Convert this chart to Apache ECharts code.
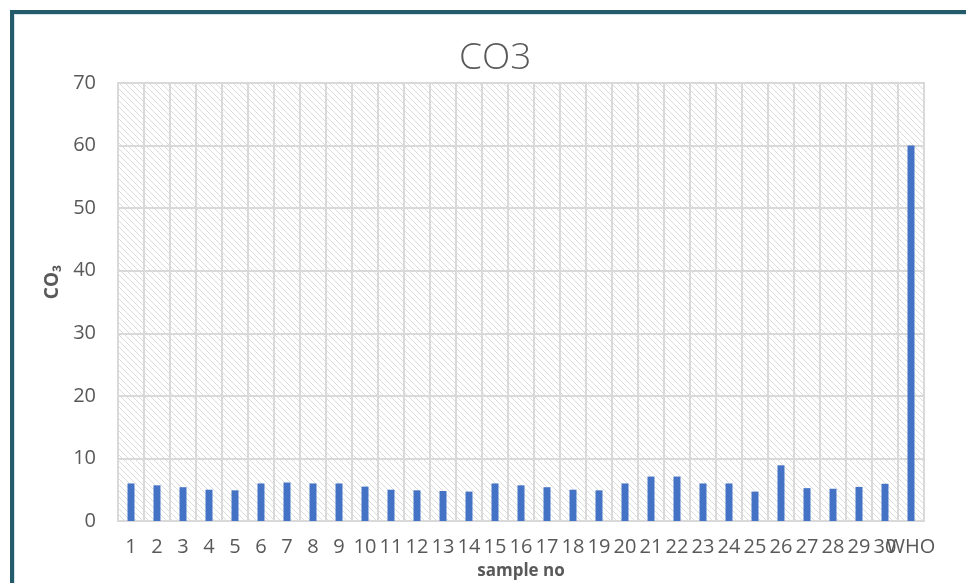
<!DOCTYPE html>
<html>
<head>
<meta charset="utf-8">
<script src="https://cdn.jsdelivr.net/npm/echarts@6/dist/echarts.min.js"></script>
<style>
html,body{margin:0;padding:0;background:#fff;overflow:hidden;}
#wrap{position:relative;width:966px;height:583px;overflow:hidden;}
#chart{position:absolute;left:0;top:0;width:966px;height:583px;}
#frame{position:absolute;left:10px;top:10px;width:1200px;height:900px;border-left:4px solid #245b6b;border-top:4px solid #245b6b;box-shadow:inset 1px 1px 0 #cfe3ea;pointer-events:none;}
</style>
</head>
<body>
<div id="wrap"><div id="chart"></div><div id="frame"></div></div>
<script>
const categories = ['1','2','3','4','5','6','7','8','9','10','11','12','13','14','15','16','17','18','19','20','21','22','23','24','25','26','27','28','29','30','WHO'];
const co3Values = [6.0,5.7,5.4,5.0,4.9,6.0,6.15,6.0,6.0,5.5,5.0,4.9,4.8,4.7,6.0,5.7,5.4,5.0,4.9,6.0,7.1,7.1,6.0,6.0,4.7,8.9,5.25,5.15,5.45,5.95,60];
const yTicks = {min:0, max:70, interval:10};

const tile = document.createElement('canvas');
tile.width = 6; tile.height = 6;
const tc = tile.getContext('2d');
tc.fillStyle = '#ffffff';
tc.fillRect(0,0,6,6);
tc.strokeStyle = '#dcdcdc';
tc.lineWidth = 1;
tc.beginPath();
tc.moveTo(-1,-1); tc.lineTo(7,7);
tc.moveTo(-1,5); tc.lineTo(1,7);
tc.moveTo(5,-1); tc.lineTo(7,1);
tc.stroke();

const chart = echarts.init(document.getElementById('chart'), null, {renderer:'canvas', width:966, height:583});
const font = '"Open Sans", "Liberation Sans", sans-serif';
chart.setOption({
  animation:false,
  backgroundColor:'#ffffff',
  title:{
    text:'CO3', left:454, top:35,
    textStyle:{fontFamily:font, fontWeight:300, fontSize:37, color:'#595959'}
  },
  grid:{
    left:118, width:806, top:83, height:438,
    outerBoundsMode:'none',
    containLabel:false,
    show:true,
    backgroundColor:{image:tile, repeat:'repeat'},
    borderColor:'#d9d9d9', borderWidth:2
  },
  xAxis:{
    type:'category',
    data:categories,
    name:'sample no',
    nameLocation:'middle',
    nameGap:42,
    nameTextStyle:{fontFamily:font, fontWeight:'bold', fontSize:17, color:'#595959'},
    axisLine:{show:true, lineStyle:{color:'#d9d9d9', width:2}},
    axisTick:{show:false},
    axisLabel:{interval:0, fontFamily:font, fontSize:20, color:'#595959', margin:16},
    splitLine:{show:true, interval:0, lineStyle:{color:'#d9d9d9', width:2}}
  },
  yAxis:{
    type:'value',
    min:yTicks.min, max:yTicks.max, interval:yTicks.interval,
    name:'CO₃',
    nameLocation:'middle',
    nameGap:50,
    nameTextStyle:{fontFamily:font, fontWeight:'bold', fontSize:19, color:'#595959', padding:[0,0,0,40]},
    axisLine:{show:false},
    axisTick:{show:false},
    axisLabel:{fontFamily:font, fontSize:20, color:'#595959', margin:22},
    splitLine:{show:true, lineStyle:{color:'#d9d9d9', width:2}}
  },
  series:[{
    type:'bar',
    data:co3Values,
    barWidth:7,
    itemStyle:{color:'#4472c4'}
  }]
});
</script>
</body>
</html>
